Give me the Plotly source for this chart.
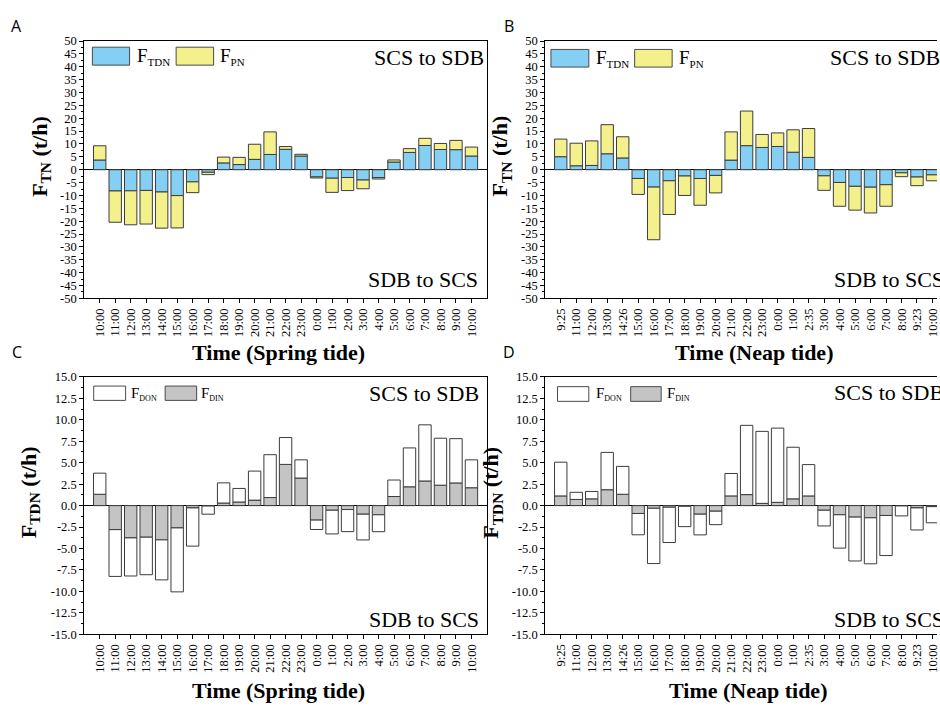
import plotly.graph_objects as go

W, H = 940, 709

# ---------------- data ----------------
spring_times = ["10:00", "11:00", "12:00", "13:00", "14:00", "15:00", "16:00", "17:00",
                "18:00", "19:00", "20:00", "21:00", "22:00", "23:00", "0:00", "1:00",
                "2:00", "3:00", "4:00", "5:00", "6:00", "7:00", "8:00", "9:00", "10:00"]
neap_times = ["9:25", "11:00", "12:00", "13:00", "14:26", "15:00", "16:00", "17:00",
              "18:00", "19:00", "20:00", "21:00", "22:00", "23:00", "0:00", "1:00",
              "2:35", "3:00", "4:00", "5:00", "6:00", "7:00", "8:00", "9:23", "10:00"]

# Panel A: spring tide
spring_tdn = [3.78, -8.25, -8.2, -8.05, -8.65, -10.05, -4.72, -1.0, 2.65, 2.0, 4.02, 5.93, 7.93,
              5.33, -2.78, -3.3, -3.03, -4.0, -3.04, 2.98, 6.72, 9.41, 7.85, 7.8, 5.33]
spring_pn = [5.52, -12.15, -13.2, -13.05, -14.05, -12.55, -4.18, -0.9, 2.25, 2.8, 5.88, 8.77, 1.07,
             0.67, -0.42, -5.5, -5.07, -3.4, -0.56, 0.82, 1.48, 2.79, 2.35, 3.6, 3.47]

# Panel B: neap tide
neap_tdn = [5.06, 1.55, 1.65, 6.2, 4.57, -3.4, -6.75, -4.3, -2.45, -3.41, -2.22, 3.74, 9.35,
            8.65, 9.03, 6.8, 4.78, -2.37, -4.95, -6.45, -6.78, -5.82, -1.2, -2.84, -2.0]
neap_pn = [6.84, 8.75, 9.55, 11.3, 8.23, -6.2, -20.45, -13.1, -7.55, -10.39, -6.78, 10.96, 13.45,
           5.05, 5.27, 8.7, 11.22, -5.63, -9.25, -9.25, -10.02, -8.38, -1.5, -3.36, -2.3]

# Panel C: spring tide
spring_din = [1.32, -2.8, -3.76, -3.68, -3.99, -2.6, -0.27, -0.05, 0.3, 0.42, 0.64, 0.94, 4.8,
              3.21, -1.69, -0.54, -0.46, -1.0, -1.07, 1.06, 2.19, 2.87, 2.38, 2.64, 2.08]
spring_don = [2.46, -5.45, -4.44, -4.37, -4.66, -7.45, -4.45, -0.95, 2.35, 1.58, 3.38, 4.99, 3.13,
              2.12, -1.09, -2.76, -2.57, -3.0, -1.97, 1.92, 4.53, 6.54, 5.47, 5.16, 3.25]

# Panel D: neap tide
neap_din = [1.13, 0.72, 0.79, 1.85, 1.32, -0.92, -0.31, -0.19, -0.08, -1.0, -0.65, 1.13, 1.28,
            0.26, 0.38, 0.79, 1.13, -0.54, -1.07, -1.34, -1.42, -1.15, -0.04, -0.27, -0.12]
neap_don = [3.93, 0.83, 0.86, 4.35, 3.25, -2.48, -6.44, -4.11, -2.37, -2.41, -1.57, 2.61, 8.07,
            8.39, 8.65, 6.01, 3.65, -1.83, -3.88, -5.11, -5.36, -4.67, -1.16, -2.57, -1.88]

tn_ticks = [50, 45, 40, 35, 30, 25, 20, 15, 10, 5, 0, -5, -10, -15, -20, -25, -30, -35, -40, -45, -50]
tn_tick_labels = [str(v) for v in tn_ticks]
tdn_ticks = [15.0, 12.5, 10.0, 7.5, 5.0, 2.5, 0.0, -2.5, -5.0, -7.5, -10.0, -12.5, -15.0]
tdn_tick_labels = ["%.1f" % v for v in tdn_ticks]

# ---------------- style ----------------
BLUE = "#86CFF4"
YELLOW = "#F4F08C"
GRAY = "#C4C4C4"
WHITE = "#FFFFFF"
EDGE = "#3c3c3c"
SERIF = "Liberation Serif"


def px(x):
    return x / W


def py(y):
    return 1 - y / H


spring_x = list(range(len(spring_times)))
neap_x = list(range(len(neap_times)))

fig = go.Figure()


def add_bar(x, y, color, name, ax):
    fig.add_trace(go.Bar(x=x, y=y, name=name, marker=dict(color=color, line=dict(color=EDGE, width=1)),
                         xaxis="x" + ax, yaxis="y" + ax, showlegend=False))


add_bar(spring_x, spring_tdn, BLUE, "F_TDN", "")
add_bar(spring_x, spring_pn, YELLOW, "F_PN", "")
add_bar(neap_x, neap_tdn, BLUE, "F_TDN", "2")
add_bar(neap_x, neap_pn, YELLOW, "F_PN", "2")
add_bar(spring_x, spring_din, GRAY, "F_DIN", "3")
add_bar(spring_x, spring_don, WHITE, "F_DON", "3")
add_bar(neap_x, neap_din, GRAY, "F_DIN", "4")
add_bar(neap_x, neap_don, WHITE, "F_DON", "4")

LEFT_L, RIGHT_L = 84.5, 488.5
LEFT_R = 547.0
STEP = (RIGHT_L - LEFT_L) / 26.0
right_range = -1 + (W - LEFT_R) / STEP
TOP_T, BOT_T = 34.7, 297.3
TOP_B, BOT_B = 377.3, 640.0

tick_font = dict(family=SERIF, size=12.5, color="black")


def xaxis(dom, labels, rng, anchor):
    return dict(domain=[px(dom[0]), px(dom[1])], anchor=anchor, range=rng,
                tickmode="array", tickvals=list(range(len(labels))), ticktext=labels,
                tickangle=-90, ticks="outside", ticklen=4, tickcolor="black",
                ticklabeloverflow="allow",
                showline=True, linecolor="black", linewidth=1, mirror=True,
                showgrid=False, zeroline=False, tickfont=tick_font)


def yaxis(dom, ticks, labels, rng, minor_step, anchor, mirror):
    minor_vals = [v - minor_step for v in ticks[:-1]]
    return dict(domain=[py(dom[1]), py(dom[0])], anchor=anchor, range=rng,
                tickmode="array", tickvals=ticks, ticktext=labels,
                ticks="outside", ticklen=4, tickcolor="black",
                minor=dict(tickvals=minor_vals, ticks="outside", ticklen=2, tickcolor="black"),
                showline=True, linecolor="black", linewidth=1, mirror=mirror,
                showgrid=False, zeroline=True, zerolinecolor="black", zerolinewidth=1,
                tickfont=tick_font)


fig.update_layout(
    width=W, height=H,
    margin=dict(l=0, r=0, t=0, b=0),
    paper_bgcolor="white", plot_bgcolor="white",
    barmode="relative", bargap=0.2,
    xaxis=xaxis((LEFT_L, RIGHT_L), spring_times, [-1, 25], "y"),
    yaxis=yaxis((TOP_T, BOT_T), tn_ticks, tn_tick_labels, [-50, 50], 2.5, "x", True),
    xaxis2=xaxis((LEFT_R, W), neap_times, [-1, right_range], "y2"),
    yaxis2=yaxis((TOP_T, BOT_T), tn_ticks, tn_tick_labels, [-50, 50], 2.5, "x2", False),
    xaxis3=xaxis((LEFT_L, RIGHT_L), spring_times, [-1, 25], "y3"),
    yaxis3=yaxis((TOP_B, BOT_B), tdn_ticks, tdn_tick_labels, [-15, 15], 1.25, "x3", True),
    xaxis4=xaxis((LEFT_R, W), neap_times, [-1, right_range], "y4"),
    yaxis4=yaxis((TOP_B, BOT_B), tdn_ticks, tdn_tick_labels, [-15, 15], 1.25, "x4", False),
)

annotations = []
shapes = []


def text(x, y, s, size, xanchor="center", angle=0, family=SERIF):
    annotations.append(dict(x=px(x), y=py(y), xref="paper", yref="paper", text=s,
                            showarrow=False, xanchor=xanchor, yanchor="middle", textangle=angle,
                            font=dict(family=family, size=size, color="black")))


def box(x0, y0, x1, y1, color):
    shapes.append(dict(type="rect", xref="paper", yref="paper", x0=px(x0), x1=px(x1),
                       y0=py(y1), y1=py(y0), fillcolor=color, line=dict(color="#4a4a4a", width=1)))


# panel letters
for lx, ly, s in [(17, 19, "A"), (511, 19, "B"), (17, 352, "C"), (511, 352, "D")]:
    text(lx, ly, s, 16, family="Open Sans")

# axis titles
text(41, 152, "<b>F<sub>TN</sub> (t/h)</b>", 22, angle=-90)
text(503, 152, "<b>F<sub>TN</sub> (t/h)</b>", 22, angle=-90)
text(30, 495, "<b>F<sub>TDN</sub> (t/h)</b>", 22, angle=-90)
text(494, 495, "<b>F<sub>TDN</sub> (t/h)</b>", 22, angle=-90)
text(279, 352, "<b>Time (Spring tide)</b>", 22)
text(756, 352, "<b>Time (Neap tide)</b>", 22)
text(279, 697, "<b>Time (Spring tide)</b>", 22)
text(750, 697, "<b>Time (Neap tide)</b>", 22)

# direction labels
text(373, 52, "SCS to SDB", 22, xanchor="left")
text(367, 278, "SDB to SCS", 22, xanchor="left")
text(831, 52, "SCS to SDB", 22, xanchor="left")
text(835, 278, "SDB to SCS", 22, xanchor="left")
text(368, 394, "SCS to SDB", 22, xanchor="left")
text(368, 625, "SDB to SCS", 22, xanchor="left")
text(835, 393, "SCS to SDB", 22, xanchor="left")
text(835, 625, "SDB to SCS", 22, xanchor="left")


def sub(main, s, size):
    return "%s<sub><span style='font-size:%dpx'>%s</span></sub>" % (main, size, s)


# legends (top)
box(92.7, 41, 130, 59.3, BLUE)
text(135, 51, sub("F", "TDN", 11), 19, xanchor="left")
box(176.7, 41, 214.3, 59.3, YELLOW)
text(219, 51, sub("F", "PN", 11), 19, xanchor="left")
box(552.7, 43.3, 590.7, 61.3, BLUE)
text(595.7, 53, sub("F", "TDN", 11), 19, xanchor="left")
box(636.7, 43.3, 674.3, 61.3, YELLOW)
text(679.3, 53, sub("F", "PN", 11), 19, xanchor="left")
# legends (bottom)
box(94, 386.7, 126, 401.3, WHITE)
text(129, 394.5, sub("F", "DON", 8), 15, xanchor="left")
box(165.7, 386.7, 197.3, 401.3, GRAY)
text(200, 394.5, sub("F", "DIN", 8), 15, xanchor="left")
box(559.3, 387.3, 590.7, 402.3, WHITE)
text(595.7, 395, sub("F", "DON", 8), 15, xanchor="left")
box(632.7, 387.3, 663.3, 402.3, GRAY)
text(667.3, 395, sub("F", "DIN", 8), 15, xanchor="left")

fig.update_layout(annotations=annotations, shapes=shapes)

fig.write_html("out.html", config={"displayModeBar": False},
               post_script="document.body.style.margin='0px';document.body.style.overflow='hidden';")
